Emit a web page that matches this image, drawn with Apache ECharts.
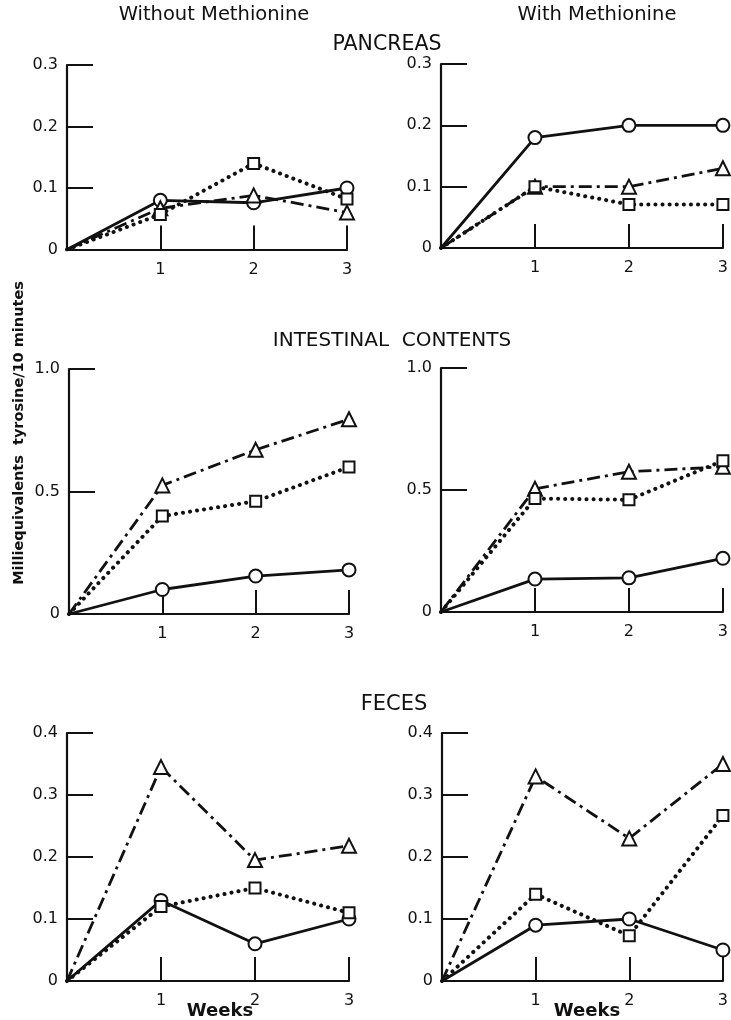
<!DOCTYPE html>
<html>
<head>
<meta charset="utf-8">
<script src="https://cdn.jsdelivr.net/npm/echarts@6/dist/echarts.min.js"></script>
<style>
  html, body { margin: 0; padding: 0; background: #fff; }
  #chart { width: 731px; height: 1020px; }
</style>
</head>
<body>
<div id="chart"></div>
<script>
// Weeks on the x axis (the origin is the starting point of every curve)
const weeks = [0, 1, 2, 3];
const weekTicks = ['1', '2', '3'];

// Pancreas — without methionine
const pancreasWithoutCircle   = [0, 0.08, 0.076, 0.10];
const pancreasWithoutTriangle = [0, 0.067, 0.088, 0.06];
const pancreasWithoutSquare   = [0, 0.057, 0.14, 0.082];
// Pancreas — with methionine
const pancreasWithCircle   = [0, 0.18, 0.20, 0.20];
const pancreasWithTriangle = [0, 0.10, 0.10, 0.13];
const pancreasWithSquare   = [0, 0.10, 0.071, 0.071];

// Intestinal contents — without methionine
const intestineWithoutCircle   = [0, 0.10, 0.155, 0.18];
const intestineWithoutTriangle = [0, 0.525, 0.67, 0.795];
const intestineWithoutSquare   = [0, 0.40, 0.46, 0.60];
// Intestinal contents — with methionine
const intestineWithCircle   = [0, 0.135, 0.14, 0.22];
const intestineWithTriangle = [0, 0.505, 0.575, 0.595];
const intestineWithSquare   = [0, 0.465, 0.46, 0.62];

// Feces — without methionine
const fecesWithoutCircle   = [0, 0.13, 0.06, 0.10];
const fecesWithoutTriangle = [0, 0.345, 0.195, 0.218];
const fecesWithoutSquare   = [0, 0.12, 0.15, 0.11];
// Feces — with methionine
const fecesWithCircle   = [0, 0.09, 0.10, 0.05];
const fecesWithTriangle = [0, 0.33, 0.23, 0.35];
const fecesWithSquare   = [0, 0.14, 0.073, 0.267];

// Y-axis ranges per organ row
const pancreasMax = 0.3, pancreasStep = 0.1;
const intestineMax = 1.0, intestineStep = 0.5;
const fecesMax = 0.4, fecesStep = 0.1;

const INK = '#111';
const FONT = 'DejaVu Sans';

// Panel boxes in pixels: [left, top, width, height]
const boxes = [
  [67, 65, 280, 184.5],
  [441, 64, 282, 184],
  [69, 369, 280, 245],
  [441, 368, 283, 244],
  [67, 733, 282, 248],
  [442, 733, 283, 248]
];

const panels = [
  { max: pancreasMax,  step: pancreasStep,  c: pancreasWithoutCircle,  t: pancreasWithoutTriangle,  s: pancreasWithoutSquare },
  { max: pancreasMax,  step: pancreasStep,  c: pancreasWithCircle,     t: pancreasWithTriangle,     s: pancreasWithSquare },
  { max: intestineMax, step: intestineStep, c: intestineWithoutCircle, t: intestineWithoutTriangle, s: intestineWithoutSquare },
  { max: intestineMax, step: intestineStep, c: intestineWithCircle,    t: intestineWithTriangle,    s: intestineWithSquare },
  { max: fecesMax,     step: fecesStep,     c: fecesWithoutCircle,     t: fecesWithoutTriangle,     s: fecesWithoutSquare },
  { max: fecesMax,     step: fecesStep,     c: fecesWithCircle,        t: fecesWithTriangle,        s: fecesWithSquare }
];

const grid = [], xAxis = [], yAxis = [], series = [];

function toPoints(values) {
  return values.map((v, i) => i === 0
    ? { value: [weeks[i], v], symbol: 'none' }
    : [weeks[i], v]);
}

const markerStyle = { color: '#fff', borderColor: INK, borderWidth: 2 };

panels.forEach((p, k) => {
  const [l, t, w, h] = boxes[k];
  grid.push({ left: l, top: t, width: w, height: h, containLabel: false });
  xAxis.push({
    type: 'value', gridIndex: k, min: 0, max: 3, interval: 1,
    axisLine: { show: true, lineStyle: { color: INK, width: 2.2 } },
    axisTick: { show: true, inside: true, length: 24, lineStyle: { color: INK, width: 2 } },
    axisLabel: {
      show: true, margin: 12, color: INK, fontFamily: FONT, fontSize: 16,
      formatter: v => (v === 0 ? '' : weekTicks[v - 1])
    },
    splitLine: { show: false }
  });
  yAxis.push({
    type: 'value', gridIndex: k, min: 0, max: p.max, interval: p.step,
    axisLine: { show: true, lineStyle: { color: INK, width: 2.2 } },
    axisTick: { show: true, inside: true, length: 26, lineStyle: { color: INK, width: 2 } },
    axisLabel: {
      show: true, margin: 9, color: INK, fontFamily: FONT, fontSize: 16,
      formatter: v => (v === 0 ? '0' : v.toFixed(1))
    },
    splitLine: { show: false }
  });
  // solid line with open circles
  series.push({
    type: 'line', xAxisIndex: k, yAxisIndex: k, data: toPoints(p.c),
    symbol: 'circle', symbolSize: 13, itemStyle: markerStyle,
    lineStyle: { color: INK, width: 2.8, type: 'solid' },
    animation: false, z: 3
  });
  // dash-dot line with open triangles
  series.push({
    type: 'line', xAxisIndex: k, yAxisIndex: k, data: toPoints(p.t),
    symbol: 'triangle', symbolSize: 14, itemStyle: markerStyle,
    lineStyle: { color: INK, width: 2.8, type: [13, 5, 3, 5] },
    animation: false, z: 3
  });
  // dotted line with open squares
  series.push({
    type: 'line', xAxisIndex: k, yAxisIndex: k, data: toPoints(p.s),
    symbol: 'rect', symbolSize: 11, itemStyle: markerStyle,
    lineStyle: { color: INK, width: 4, type: [0.1, 7], cap: 'round' },
    animation: false, z: 3
  });
});

function label(text, x, y, size, weight, rotation) {
  return {
    type: 'text', x: x, y: y, rotation: rotation || 0,
    style: {
      text: text, fill: INK,
      font: (weight || 'normal') + ' ' + size + 'px "' + FONT + '"',
      textAlign: 'center', textVerticalAlign: 'middle',
      align: 'center', verticalAlign: 'middle'
    }
  };
}

const graphic = [
  label('Without Methionine', 214, 15, 19.5),
  label('With Methionine', 597, 15, 19.5),
  label('PANCREAS', 387, 45, 20.5),
  label('INTESTINAL  CONTENTS', 392, 341, 20),
  label('FECES', 394, 705, 21),
  label('Weeks', 220, 1011, 18, 'bold'),
  label('Weeks', 587, 1011, 18, 'bold'),
  label('Milliequivalents  tyrosine/10 minutes', 19, 433, 14.5, 'bold', Math.PI / 2)
];

const chart = echarts.init(document.getElementById('chart'), null, { renderer: 'canvas' });
chart.setOption({
  backgroundColor: '#fff',
  animation: false,
  grid, xAxis, yAxis, series, graphic
});
</script>
</body>
</html>
